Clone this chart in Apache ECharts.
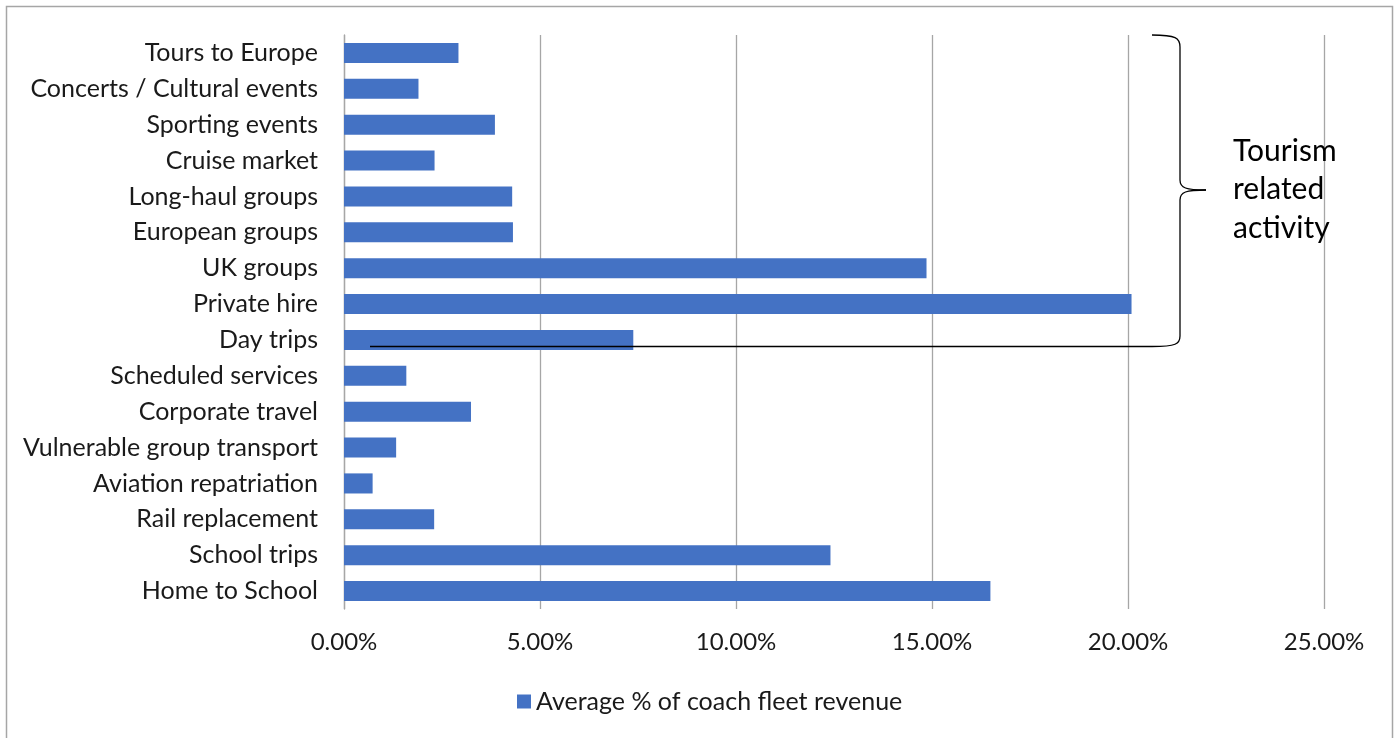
<!DOCTYPE html>
<html>
<head>
<meta charset="utf-8">
<script src="https://cdn.jsdelivr.net/npm/echarts@6/dist/echarts.min.js"></script>
<style>
  html, body { margin: 0; padding: 0; background: #fff; }
  #main { width: 1398px; height: 738px; }
</style>
</head>
<body>
<div id="main"></div>
<script>
// categories, top to bottom
const categories = [
  'Tours to Europe', 'Concerts / Cultural events', 'Sporting events', 'Cruise market',
  'Long-haul groups', 'European groups', 'UK groups', 'Private hire', 'Day trips',
  'Scheduled services', 'Corporate travel', 'Vulnerable group transport',
  'Aviation repatriation', 'Rail replacement', 'School trips', 'Home to School'
];
// average % of coach fleet revenue
const revenueShare = [
  2.92, 1.90, 3.85, 2.31, 4.29, 4.31, 14.86, 20.09, 7.38,
  1.59, 3.24, 1.33, 0.73, 2.30, 12.41, 16.49
];
const seriesName = 'Average % of coach fleet revenue';
const xTicks = [0, 5, 10, 15, 20, 25];

const chart = echarts.init(document.getElementById('main'));
const font = 'Lato, "Liberation Sans", sans-serif';
const gray = '#a6a6a6';

var option = {
  animation: false,
  backgroundColor: '#fff',
  textStyle: { fontFamily: font },
  grid: { left: 344, right: 74, top: 35, bottom: 129, containLabel: false },
  legend: {
    data: [seriesName],
    left: 512,
    top: 684,
    icon: 'rect',
    itemWidth: 14,
    itemHeight: 14,
    itemGap: 6,
    textStyle: { fontSize: 25, color: '#1a1a1a', fontFamily: font }
  },
  xAxis: {
    type: 'value',
    min: xTicks[0],
    max: xTicks[xTicks.length - 1],
    interval: 5,
    axisLine: { show: false },
    axisTick: { show: false },
    splitLine: { lineStyle: { color: gray, width: 1.3 } },
    axisLabel: {
      margin: 21,
      fontSize: 24,
      color: '#1a1a1a',
      formatter: v => v.toFixed(2) + '%'
    }
  },
  yAxis: {
    type: 'category',
    data: categories,
    inverse: true,
    axisLine: { show: true, lineStyle: { color: gray, width: 1.3 } },
    axisTick: { show: false },
    axisLabel: { margin: 26, fontSize: 25, color: '#1a1a1a' }
  },
  series: [{
    name: seriesName,
    type: 'bar',
    data: revenueShare,
    barCategoryGap: '44%',
    itemStyle: { color: '#4472C4' }
  }],
  graphic: [
    { type: 'rect', shape: { x: 6.5, y: 6.5, width: 1386, height: 745 },
      style: { fill: 'none', stroke: gray, lineWidth: 1.5 }, silent: true },
    { type: 'bezierCurve', shape: { x1: 1152, y1: 35, cpx1: 1176, cpy1: 35, cpx2: 1180, cpy2: 38, x2: 1180, y2: 47 },
      style: { fill: 'none', stroke: '#000', lineWidth: 1.3 }, z: 100 },
    { type: 'line', shape: { x1: 1180, y1: 47, x2: 1180, y2: 180 },
      style: { stroke: '#000', lineWidth: 1.3 }, z: 100 },
    { type: 'bezierCurve', shape: { x1: 1180, y1: 180, cpx1: 1180, cpy1: 188, cpx2: 1186, cpy2: 190, x2: 1206, y2: 190 },
      style: { fill: 'none', stroke: '#000', lineWidth: 1.3 }, z: 100 },
    { type: 'bezierCurve', shape: { x1: 1180, y1: 200, cpx1: 1180, cpy1: 192, cpx2: 1186, cpy2: 190, x2: 1206, y2: 190 },
      style: { fill: 'none', stroke: '#000', lineWidth: 1.3 }, z: 100 },
    { type: 'line', shape: { x1: 1180, y1: 200, x2: 1180, y2: 336 },
      style: { stroke: '#000', lineWidth: 1.3 }, z: 100 },
    { type: 'bezierCurve', shape: { x1: 1180, y1: 336, cpx1: 1180, cpy1: 344, cpx2: 1176, cpy2: 346.5, x2: 1152, y2: 346.5 },
      style: { fill: 'none', stroke: '#000', lineWidth: 1.3 }, z: 100 },
    { type: 'line', shape: { x1: 1152, y1: 346.5, x2: 370, y2: 346.5 },
      style: { stroke: '#000', lineWidth: 1.3 }, z: 100 },
    { type: 'text', left: 1233, top: 132, z: 100,
      style: { text: 'Tourism\nrelated\nactivity', font: '30px ' + font, fill: '#000', lineHeight: 38.5 } }
  ]
};
chart.setOption(option);
</script>
</body>
</html>
